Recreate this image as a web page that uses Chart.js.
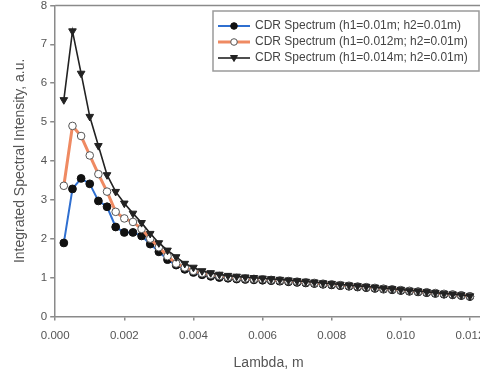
<!DOCTYPE html>
<html>
<head>
<meta charset="utf-8">
<script src="https://cdn.jsdelivr.net/npm/chart.js@4"></script>
<style>
  html, body { margin: 0; padding: 0; background: #fff; overflow: hidden; }
  #wrap { width: 496px; height: 374px; position: relative; }
</style>
</head>
<body>
<div id="wrap"><canvas id="canvas"></canvas></div>
<script>
// wavelength, m
var lambda = [0.00025, 0.0005, 0.00075, 0.001, 0.00125, 0.0015, 0.00175, 0.002,
              0.00225, 0.0025, 0.00275, 0.003, 0.00325, 0.0035, 0.00375, 0.004,
              0.00425, 0.0045, 0.00475, 0.005, 0.00525, 0.0055, 0.00575, 0.006,
              0.00625, 0.0065, 0.00675, 0.007, 0.00725, 0.0075, 0.00775, 0.008,
              0.00825, 0.0085, 0.00875, 0.009, 0.00925, 0.0095, 0.00975, 0.01,
              0.01025, 0.0105, 0.01075, 0.011, 0.01125, 0.0115, 0.01175, 0.012];

var h1_010 = [1.89, 3.28, 3.55, 3.41, 2.97, 2.82, 2.30, 2.16, 2.16, 2.07, 1.86, 1.66, 1.46, 1.32, 1.21, 1.13,
              1.07, 1.03, 1.00, 0.98, 0.96, 0.95, 0.94, 0.93, 0.92, 0.905, 0.89, 0.875, 0.86, 0.845, 0.825, 0.81,
              0.79, 0.775, 0.755, 0.74, 0.72, 0.70, 0.685, 0.665, 0.645, 0.63, 0.61, 0.59, 0.57, 0.555, 0.535, 0.51];
var h1_012 = [3.36, 4.90, 4.64, 4.14, 3.66, 3.21, 2.69, 2.52, 2.43, 2.25, 2.00, 1.78, 1.55, 1.36, 1.26, 1.17,
              1.11, 1.07, 1.04, 1.01, 0.99, 0.975, 0.965, 0.955, 0.94, 0.925, 0.91, 0.895, 0.878, 0.862, 0.842, 0.826,
              0.806, 0.79, 0.77, 0.754, 0.734, 0.714, 0.698, 0.678, 0.658, 0.642, 0.622, 0.602, 0.581, 0.566, 0.545, 0.52];
var h1_014 = [5.57, 7.34, 6.25, 5.14, 4.39, 3.64, 3.21, 2.91, 2.65, 2.41, 2.13, 1.89, 1.70, 1.53, 1.36, 1.26,
              1.17, 1.12, 1.08, 1.05, 1.03, 1.01, 0.995, 0.98, 0.965, 0.948, 0.932, 0.915, 0.898, 0.88, 0.86, 0.843,
              0.822, 0.805, 0.785, 0.768, 0.748, 0.727, 0.71, 0.69, 0.669, 0.652, 0.632, 0.611, 0.59, 0.574, 0.552, 0.525];

var seriesNames = ['CDR Spectrum (h1=0.01m; h2=0.01m)',
                   'CDR Spectrum (h1=0.012m; h2=0.01m)',
                   'CDR Spectrum (h1=0.014m; h2=0.01m)'];
var xTicks = [0, 0.002, 0.004, 0.006, 0.008, 0.010, 0.012];
var yTicks = [0, 1, 2, 3, 4, 5, 6, 7, 8];

function pts(ys) {
    return lambda.map(function (x, i) { return { x: x, y: ys[i] }; });
}

var FONT = "'Liberation Sans', Arial, sans-serif";
var AXIS = '#8a8a8a';

var datasets = [
    {
        label: seriesNames[0], data: pts(h1_010), order: 3,
        borderColor: '#2f6fd0', borderWidth: 2,
        pointStyle: 'circle', pointRadius: 3.9,
        pointBackgroundColor: '#111', pointBorderColor: '#111', pointBorderWidth: 1
    },
    {
        label: seriesNames[1], data: pts(h1_012), order: 2,
        borderColor: '#ef8a62', borderWidth: 3,
        pointStyle: 'circle', pointRadius: 3.8,
        pointBackgroundColor: '#fff', pointBorderColor: '#555', pointBorderWidth: 1
    },
    {
        label: seriesNames[2], data: pts(h1_014), order: 1,
        borderColor: '#222', borderWidth: 1.6,
        pointStyle: 'triangle', pointRotation: 180, pointRadius: 4.4,
        pointBackgroundColor: '#222', pointBorderColor: '#222', pointBorderWidth: 1
    }
];

// frame round the plot area plus the boxed legend
var framePlugin = {
    id: 'frame',
    afterDatasetsDraw: function (chart) {
        var ctx = chart.ctx, a = chart.chartArea;
        ctx.save();
        ctx.strokeStyle = AXIS;
        ctx.lineWidth = 1.5;
        ctx.beginPath();
        ctx.moveTo(a.left, a.top);
        ctx.lineTo(a.right, a.top);
        ctx.lineTo(a.right, a.bottom);
        ctx.stroke();

        // legend
        var bx = 213, by = 11, bw = 266, bh = 60;
        ctx.fillStyle = '#fff';
        ctx.fillRect(bx, by, bw, bh);
        ctx.strokeStyle = '#9a9a9a';
        ctx.lineWidth = 1.5;
        ctx.strokeRect(bx, by, bw, bh);

        var rows = [26, 42, 58];
        chart.data.datasets.forEach(function (ds, i) {
            var y = rows[i];
            ctx.strokeStyle = ds.borderColor;
            ctx.lineWidth = ds.borderWidth;
            ctx.beginPath();
            ctx.moveTo(218, y);
            ctx.lineTo(250, y);
            ctx.stroke();

            ctx.fillStyle = ds.pointBackgroundColor;
            ctx.strokeStyle = ds.pointBorderColor;
            ctx.lineWidth = 1;
            ctx.beginPath();
            if (ds.pointStyle === 'triangle') {
                ctx.moveTo(234 - 3.5, y - 2.5);
                ctx.lineTo(234 + 3.5, y - 2.5);
                ctx.lineTo(234, y + 3.5);
                ctx.closePath();
            } else {
                ctx.arc(234, y, 3.3, 0, Math.PI * 2);
            }
            ctx.fill();
            ctx.stroke();

            ctx.fillStyle = '#444';
            ctx.font = '12px ' + FONT;
            ctx.textAlign = 'left';
            ctx.textBaseline = 'middle';
            ctx.fillText(ds.label, 255, y);
        });
        ctx.restore();
    }
};

var ctx = document.getElementById('canvas').getContext('2d');
window.myChart = new Chart(ctx, {
    type: 'line',
    data: { datasets: datasets },
    plugins: [framePlugin],
    options: {
        responsive: true,
        maintainAspectRatio: false,
        animation: false,
        layout: { padding: { left: 12, top: 5, right: 14, bottom: 2 } },
        plugins: {
            legend: { display: false },
            tooltip: { enabled: false },
            title: { display: false }
        },
        scales: {
            x: {
                type: 'linear',
                min: 0,
                max: 0.01235,
                afterBuildTicks: function (scale) {
                    scale.ticks = xTicks.map(function (v) { return { value: v }; });
                },
                ticks: {
                    font: { family: FONT, size: 11.5 },
                    color: '#555',
                    padding: 9,
                    maxRotation: 0,
                    callback: function (v) { return Number(v).toFixed(3); }
                },
                grid: { drawOnChartArea: false, drawTicks: true, tickLength: 4, color: AXIS, lineWidth: 1.5 },
                border: { display: true, color: AXIS, width: 1.5 },
                title: {
                    display: true, text: 'Lambda, m',
                    font: { family: FONT, size: 14 }, color: '#555',
                    padding: { top: 3, bottom: 0 }
                }
            },
            y: {
                type: 'linear',
                min: 0,
                max: 8,
                afterBuildTicks: function (scale) {
                    scale.ticks = yTicks.map(function (v) { return { value: v }; });
                },
                afterFit: function (scale) {
                    scale.paddingTop = 0;
                },
                ticks: {
                    font: { family: FONT, size: 11.5 },
                    color: '#555',
                    padding: 3
                },
                grid: { drawOnChartArea: false, drawTicks: true, tickLength: 5, color: AXIS, lineWidth: 1.5 },
                border: { display: true, color: AXIS, width: 1.5 },
                title: {
                    display: true, text: 'Integrated Spectral Intensity, a.u.',
                    font: { family: FONT, size: 14 }, color: '#555',
                    padding: { top: 0, bottom: 9 }
                }
            }
        }
    }
});
</script>
</body>
</html>
